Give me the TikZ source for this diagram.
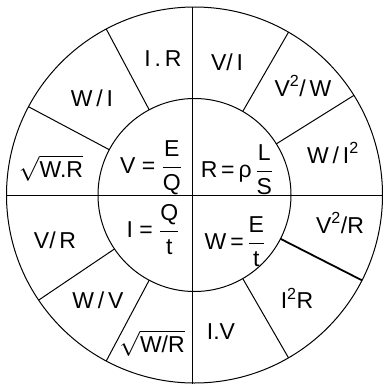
\documentclass[tikz,border=0pt]{standalone}
\usepackage{amsmath}
\usepackage{fontspec}
\setmainfont{Liberation Sans}
\usetikzlibrary{calc}
\begin{document}
\begin{tikzpicture}[x=1pt,y=-1pt,
  lbl/.style={font=\fontsize{23}{27}\selectfont, inner sep=0pt},
  ln/.style={line width=1pt},
  thk/.style={line width=1.8pt}]
\useasboundingbox (0,0) rectangle (383,386);
\coordinate (c) at (194.5,195);
\draw[ln] (c) circle[radius=188pt];
\draw[ln] (c) circle[radius=96.5pt];
\coordinate (top) at (192.5,6.5);
\coordinate (bot) at (192.5,384);
\coordinate (lft) at (7,195);
\coordinate (rgt) at (383,195);
\draw[ln] (top) -- (bot);
\draw[ln] (lft) -- (rgt);
\foreach \a/\n in {118/s1,152/s2,60/s3,32/s4,214/s5,242/s6,-27/s7,-60/s8}{
  \coordinate (\n i) at ($(c)+(\a:96.5pt)$);
  \coordinate (\n o) at ($(c)+(\a:188pt)$);
}
\draw[ln] (s1i) -- (s1o);
\draw[ln] (s2i) -- (s2o);
\draw[ln] (s3i) -- (s3o);
\draw[ln] (s4i) -- (s4o);
\draw[ln] (s5i) -- (s5o);
\draw[ln] (s6i) -- (s6o);
\draw[thk] (s7i) -- (s7o);
\draw[ln] (s8i) -- (s8o);
% outer labels
\node[lbl] (ir) at (163,59) {I\,.\,R};
\node[lbl] (wi) at (92,98) {W\,/\,I};
\node[lbl] (swr) at (51,168) {$\sqrt{\text{W.R}}$};
\node[lbl] (vr) at (55,240) {V/\,R};
\node[lbl] (wv) at (98,300) {W\,/\,V};
\node[lbl] (swdr) at (152,343) {$\sqrt{\text{W/R}}$};
\node[lbl] (iv) at (221,332) {I.V};
\node[lbl] (i2r) at (297,298) {I\textsuperscript{2}R};
\node[lbl] (v2r) at (340,223) {V\textsuperscript{2}/R};
\node[lbl] (wi2) at (333,153) {W\,/\,I\textsuperscript{2}};
\node[lbl] (v2w) at (303,86) {V\textsuperscript{2}/\,W};
\node[lbl] (vi) at (227,62) {V/\,I};
% inner labels
\node[lbl] (veq) at (151,168) {V = $\dfrac{\text{E}}{\text{Q}}$};
\node[lbl] (req) at (237,170) {R\,=\,ρ\,$\dfrac{\text{L}}{\text{S}}$};
\node[lbl] (ieq) at (153,230) {I = $\dfrac{\text{Q}}{\text{t}}$};
\node[lbl] (weq) at (235,242) {W\,=\,$\dfrac{\text{E}}{\text{t}}$};
\end{tikzpicture}
\end{document}
